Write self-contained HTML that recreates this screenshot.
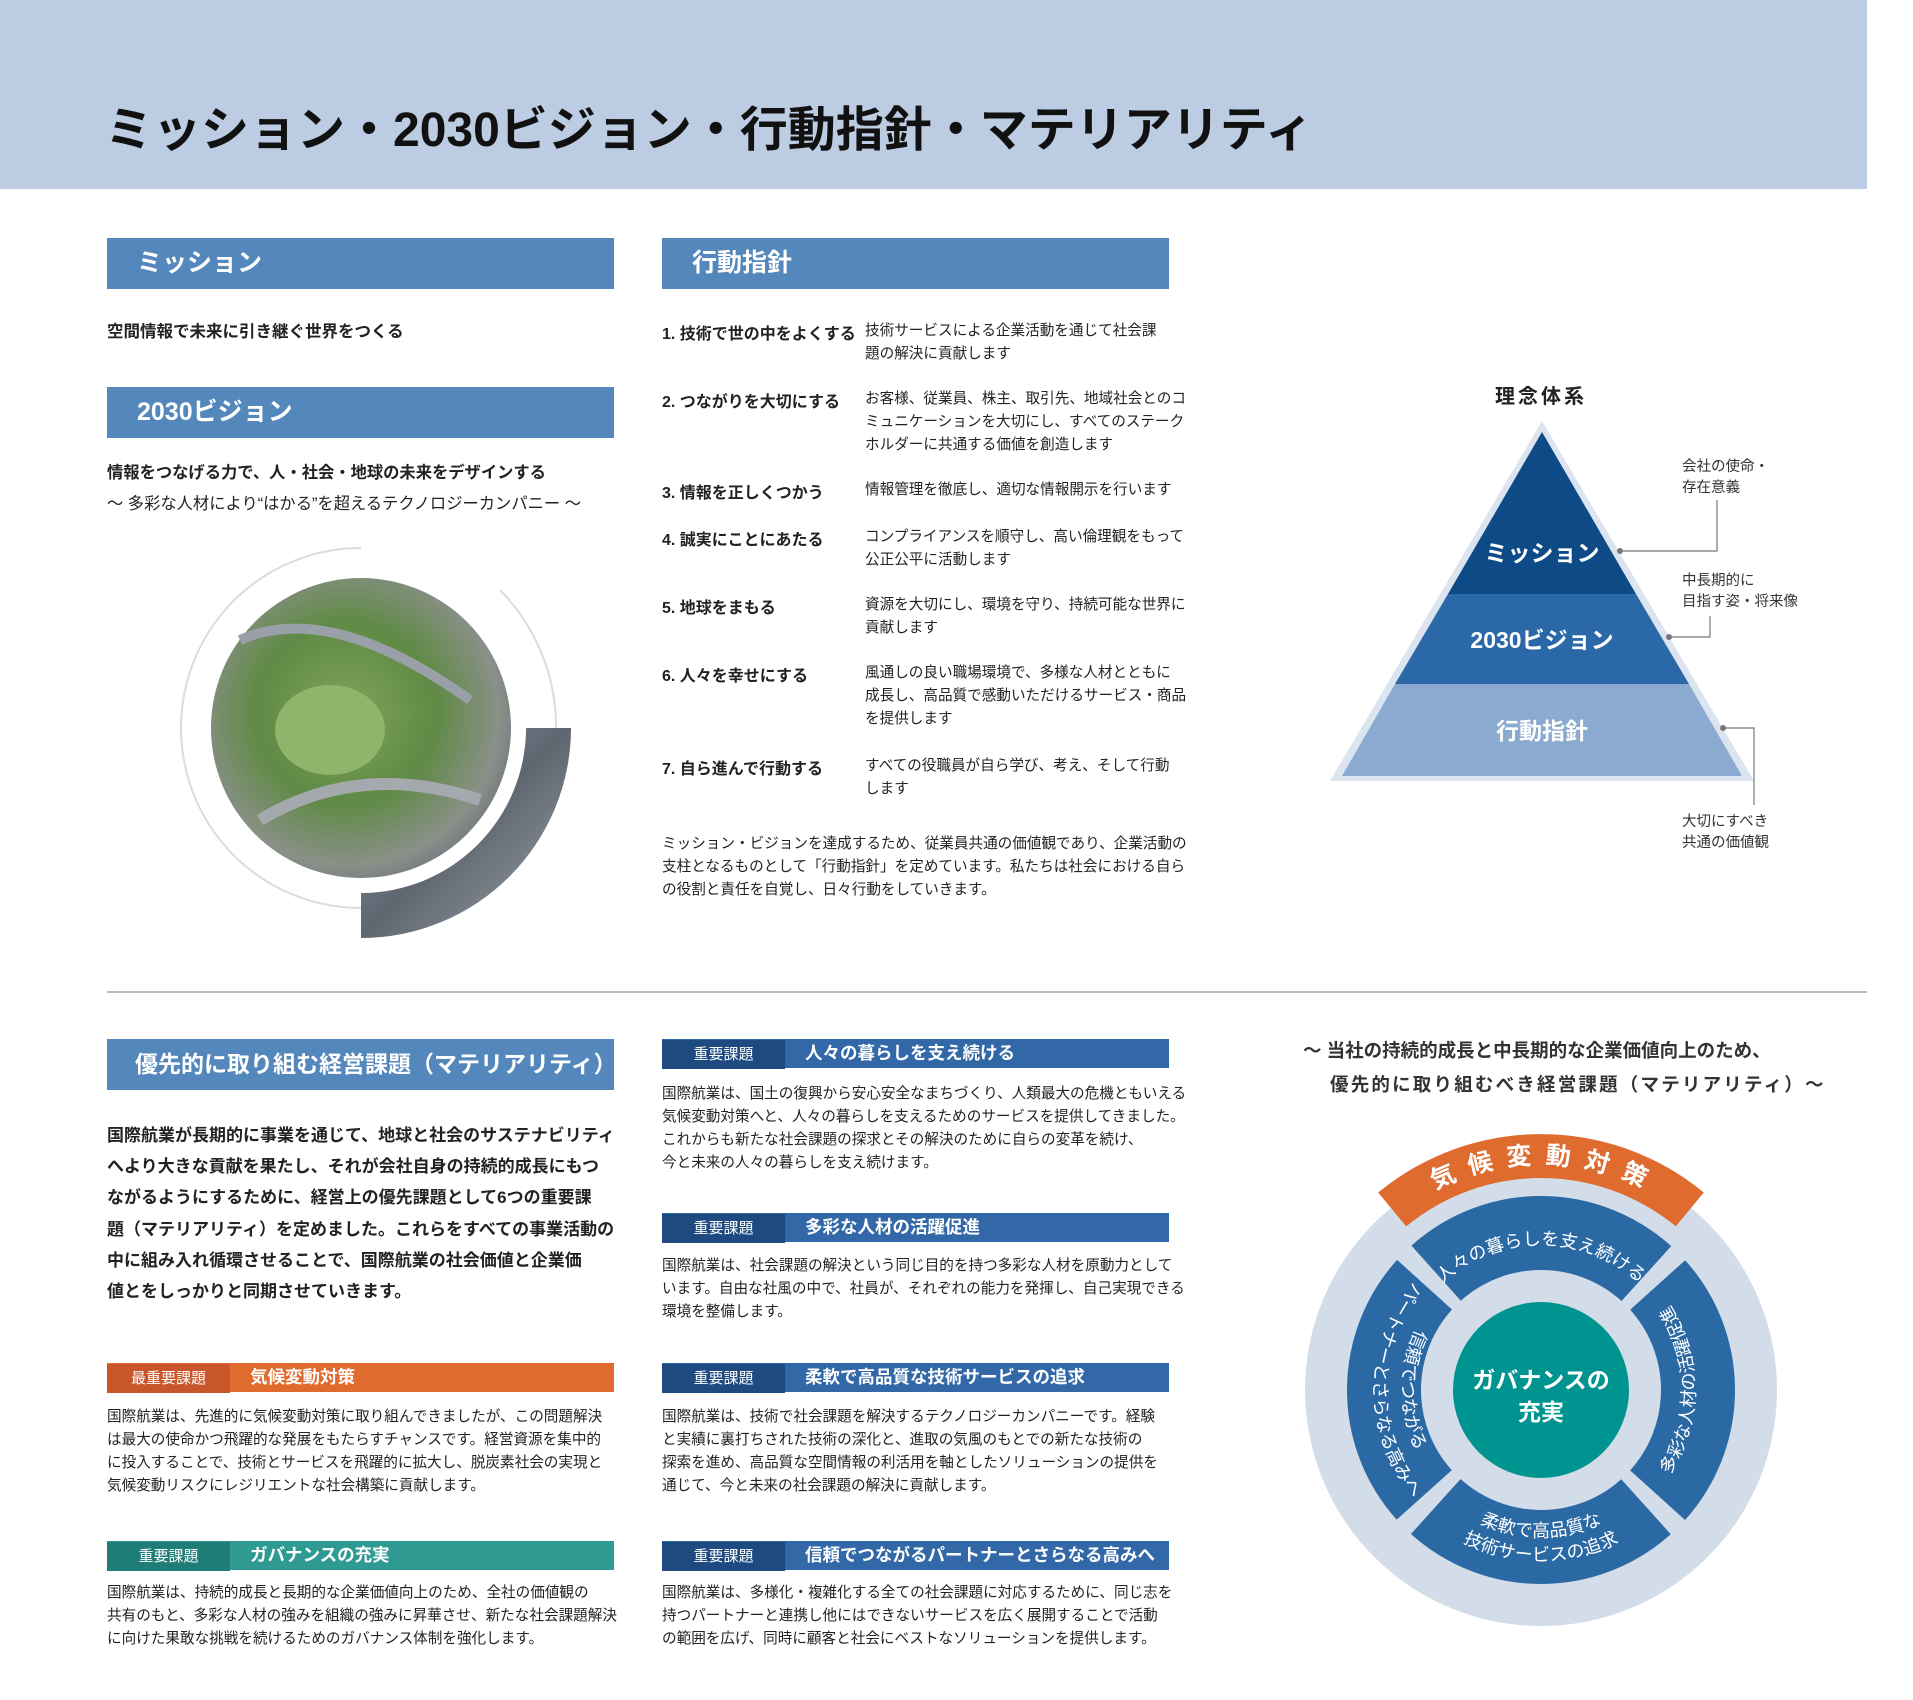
<!DOCTYPE html>
<html><head><meta charset="utf-8">
<style>
*{margin:0;padding:0;box-sizing:border-box}
body{width:1913px;height:1700px;position:relative;background:#fff;font-family:"Liberation Sans","Noto Sans CJK JP",sans-serif;color:#222;overflow:hidden}
.a{position:absolute;white-space:nowrap}
.hdr{left:0;top:0;width:1867px;height:189px;background:#bccde3}
.title{left:105px;top:96px;font-size:48px;font-weight:700;line-height:70px;color:#111}
.bar{height:51px;background:#5487bb;color:#fff;font-size:25px;font-weight:700;line-height:51px;padding-left:30px}
.t15{font-size:14.6px;line-height:23px}
.t14{font-size:14.6px;line-height:23px}
.b16{font-size:16.5px;font-weight:700}
.sb{height:29px;width:507px;line-height:29px;color:#fff}
.sb span{display:inline-block;width:123px;text-align:center;font-size:15px;height:29px}
.sb b{font-size:17.5px;padding-left:20px}
.lbl{font-size:14.5px;line-height:21px;color:#333}
</style></head><body>
<div class="a hdr"></div>
<div class="a title">ミッション・2030ビジョン・行動指針・マテリアリティ</div>

<div class="a bar" style="left:107px;top:238px;width:507px">ミッション</div>
<div class="a bar" style="left:662px;top:238px;width:507px">行動指針</div>
<div class="a b16" style="left:107px;top:318px">空間情報で未来に引き継ぐ世界をつくる</div>
<div class="a bar" style="left:107px;top:387px;width:507px">2030ビジョン</div>
<div class="a b16" style="left:107px;top:459px;font-size:16.3px">情報をつなげる力で、人・社会・地球の未来をデザインする</div>
<div class="a" style="left:107px;top:490px;font-size:16.3px">～ 多彩な人材により“はかる”を超えるテクノロジーカンパニー ～</div>

<div class="a b16" style="left:662px;top:320px;font-size:16px">1. 技術で世の中をよくする</div>
<div class="a t15" style="left:865px;top:320px">技術サービスによる企業活動を通じて社会課<br>題の解決に貢献します</div>
<div class="a b16" style="left:662px;top:388px;font-size:16px">2. つながりを大切にする</div>
<div class="a t15" style="left:865px;top:388px">お客様、従業員、株主、取引先、地域社会とのコ<br>ミュニケーションを大切にし、すべてのステーク<br>ホルダーに共通する価値を創造します</div>
<div class="a b16" style="left:662px;top:479px;font-size:16px">3. 情報を正しくつかう</div>
<div class="a t15" style="left:865px;top:479px">情報管理を徹底し、適切な情報開示を行います</div>
<div class="a b16" style="left:662px;top:526px;font-size:16px">4. 誠実にことにあたる</div>
<div class="a t15" style="left:865px;top:526px">コンプライアンスを順守し、高い倫理観をもって<br>公正公平に活動します</div>
<div class="a b16" style="left:662px;top:594px;font-size:16px">5. 地球をまもる</div>
<div class="a t15" style="left:865px;top:594px">資源を大切にし、環境を守り、持続可能な世界に<br>貢献します</div>
<div class="a b16" style="left:662px;top:662px;font-size:16px">6. 人々を幸せにする</div>
<div class="a t15" style="left:865px;top:662px">風通しの良い職場環境で、多様な人材とともに<br>成長し、高品質で感動いただけるサービス・商品<br>を提供します</div>
<div class="a b16" style="left:662px;top:755px;font-size:16px">7. 自ら進んで行動する</div>
<div class="a t15" style="left:865px;top:755px">すべての役職員が自ら学び、考え、そして行動<br>します</div>
<div class="a t14" style="left:662px;top:833px">ミッション・ビジョンを達成するため、従業員共通の価値観であり、企業活動の<br>支柱となるものとして「行動指針」を定めています。私たちは社会における自ら<br>の役割と責任を自覚し、日々行動をしていきます。</div>

<div class="a" style="left:1495px;top:380px;font-size:20px;font-weight:700;letter-spacing:3px">理念体系</div>
<div class="a lbl" style="left:1682px;top:457px">会社の使命・<br>存在意義</div>
<div class="a lbl" style="left:1682px;top:571px">中長期的に<br>目指す姿・将来像</div>
<div class="a lbl" style="left:1682px;top:812px">大切にすべき<br>共通の価値観</div>

<div class="a" style="left:107px;top:991px;width:1760px;height:2px;background:#bbb"></div>

<div class="a bar" style="left:107px;top:1039px;width:507px;font-size:23px;padding-left:28px">優先的に取り組む経営課題（マテリアリティ）</div>
<div class="a" style="left:107px;top:1120px;font-size:17px;font-weight:700;line-height:31.2px">国際航業が長期的に事業を通じて、地球と社会のサステナビリティ<br>へより大きな貢献を果たし、それが会社自身の持続的成長にもつ<br>ながるようにするために、経営上の優先課題として6つの重要課<br>題（マテリアリティ）を定めました。これらをすべての事業活動の<br>中に組み入れ循環させることで、国際航業の社会価値と企業価<br>値とをしっかりと同期させていきます。</div>

<div class="a sb" style="left:107px;top:1363px;background:#e06b2e"><span style="background:#c9562a">最重要課題</span><b>気候変動対策</b></div>
<div class="a t14" style="left:107px;top:1406px">国際航業は、先進的に気候変動対策に取り組んできましたが、この問題解決<br>は最大の使命かつ飛躍的な発展をもたらすチャンスです。経営資源を集中的<br>に投入することで、技術とサービスを飛躍的に拡大し、脱炭素社会の実現と<br>気候変動リスクにレジリエントな社会構築に貢献します。</div>
<div class="a sb" style="left:107px;top:1541px;background:#2f9a92"><span style="background:#1f7d78">重要課題</span><b>ガバナンスの充実</b></div>
<div class="a t14" style="left:107px;top:1582px">国際航業は、持続的成長と長期的な企業価値向上のため、全社の価値観の<br>共有のもと、多彩な人材の強みを組織の強みに昇華させ、新たな社会課題解決<br>に向けた果敢な挑戦を続けるためのガバナンス体制を強化します。</div>

<div class="a sb" style="left:662px;top:1039px;background:#3268a7"><span style="background:#1d4a80">重要課題</span><b>人々の暮らしを支え続ける</b></div>
<div class="a t14" style="left:662px;top:1083px">国際航業は、国土の復興から安心安全なまちづくり、人類最大の危機ともいえる<br>気候変動対策へと、人々の暮らしを支えるためのサービスを提供してきました。<br>これからも新たな社会課題の探求とその解決のために自らの変革を続け、<br>今と未来の人々の暮らしを支え続けます。</div>
<div class="a sb" style="left:662px;top:1213px;background:#3268a7"><span style="background:#1d4a80">重要課題</span><b>多彩な人材の活躍促進</b></div>
<div class="a t14" style="left:662px;top:1255px">国際航業は、社会課題の解決という同じ目的を持つ多彩な人材を原動力として<br>います。自由な社風の中で、社員が、それぞれの能力を発揮し、自己実現できる<br>環境を整備します。</div>
<div class="a sb" style="left:662px;top:1363px;background:#3268a7"><span style="background:#1d4a80">重要課題</span><b>柔軟で高品質な技術サービスの追求</b></div>
<div class="a t14" style="left:662px;top:1406px">国際航業は、技術で社会課題を解決するテクノロジーカンパニーです。経験<br>と実績に裏打ちされた技術の深化と、進取の気風のもとでの新たな技術の<br>探索を進め、高品質な空間情報の利活用を軸としたソリューションの提供を<br>通じて、今と未来の社会課題の解決に貢献します。</div>
<div class="a sb" style="left:662px;top:1541px;background:#3268a7"><span style="background:#1d4a80">重要課題</span><b>信頼でつながるパートナーとさらなる高みへ</b></div>
<div class="a t14" style="left:662px;top:1582px">国際航業は、多様化・複雑化する全ての社会課題に対応するために、同じ志を<br>持つパートナーと連携し他にはできないサービスを広く展開することで活動<br>の範囲を広げ、同時に顧客と社会にベストなソリューションを提供します。</div>

<div class="a" style="left:1303px;top:1034px;font-size:18.5px;font-weight:700;line-height:34px;color:#333">～ 当社の持続的成長と中長期的な企業価値向上のため、<br><span style="padding-left:27px;letter-spacing:2.2px">優先的に取り組むべき経営課題（マテリアリティ）～</span></div>

<svg class="a" style="left:0;top:0" width="1913" height="1700" viewBox="0 0 1913 1700">
<defs>
<radialGradient id="ph" cx="0.45" cy="0.45" r="0.6">
<stop offset="0" stop-color="#7fa45a"/><stop offset="0.5" stop-color="#5f8a45"/><stop offset="0.85" stop-color="#8a9088"/><stop offset="1" stop-color="#6f7680"/></radialGradient>
<linearGradient id="ph2" x1="0" y1="0" x2="1" y2="1"><stop offset="0" stop-color="#8a96a6"/><stop offset="0.5" stop-color="#5e6670"/><stop offset="1" stop-color="#a0a4a8"/></linearGradient>
<path id="po" d="M1367.9,1244.7 A226,226 0 0 1 1714.1,1244.7"/>
<path id="pt" d="M1415.4,1317.5 A145,145 0 0 1 1666.6,1317.5"/>
<path id="pr" d="M1618,1523.4 A154,154 0 0 0 1618,1256.6"/>
<path id="pl1" d="M1471.5,1269.6 A139,139 0 0 0 1471.5,1510.4"/>
<path id="pl2" d="M1457.5,1245.4 A167,167 0 0 0 1457.5,1534.6"/>
<path id="pb1" d="M1413.7,1463.5 A147,147 0 0 0 1668.3,1463.5"/>
<path id="pb2" d="M1392.9,1475.5 A171,171 0 0 0 1689.1,1475.5"/>
</defs>
<path d="M361,548 A180,180 0 1 0 541,728" fill="none" stroke="#dcdcdc" stroke-width="2"/>
<path d="M500,590 A195,195 0 0 1 556,728" fill="none" stroke="#dcdcdc" stroke-width="2"/>
<path d="M571,728 A210,210 0 0 1 361,938 L361,893 A165,165 0 0 0 526,728 Z" fill="url(#ph2)"/>
<circle cx="361" cy="728" r="155" fill="#fff"/>
<circle cx="361" cy="728" r="150" fill="url(#ph)"/>
<path d="M240,640 Q330,600 470,700" stroke="#9aa0a8" stroke-width="10" fill="none"/>
<path d="M260,820 Q360,760 480,800" stroke="#a4a9ae" stroke-width="12" fill="none"/>
<ellipse cx="330" cy="730" rx="55" ry="45" fill="#8fb46a"/>
<polygon points="1542,421 1754,781 1330,781" fill="#dce4f0"/>
<polygon points="1542,432 1636,594 1448,594" fill="#0d4a86"/>
<polygon points="1448,594 1636,594 1689,684 1395,684" fill="#2a68a8"/>
<polygon points="1395,684 1689,684 1742,776 1342,776" fill="#8aaacf"/>
<g fill="#fff" font-size="23" font-weight="700" text-anchor="middle" font-family="Liberation Sans,Noto Sans CJK JP,sans-serif">
<text x="1542" y="561">ミッション</text><text x="1542" y="648">2030ビジョン</text><text x="1542" y="739">行動指針</text></g>
<g fill="none" stroke="#777" stroke-width="1.2">
<polyline points="1620,551 1717,551 1717,500"/><polyline points="1669,637 1710,637 1710,616"/><polyline points="1723,728 1754,728 1754,805"/></g>
<g fill="#777"><circle cx="1620" cy="551" r="3"/><circle cx="1669" cy="637" r="3"/><circle cx="1723" cy="728" r="3"/></g>
<circle cx="1541" cy="1390" r="236" fill="#d3dde9"/>
<circle cx="1541" cy="1390" r="157" fill="none" stroke="#2b69a4" stroke-width="74" stroke-dasharray="230.2 16.4" transform="rotate(-42 1541 1390)"/>
<circle cx="1541" cy="1390" r="88" fill="#009490"/>
<path d="M1378.2,1192.5 A256,256 0 0 1 1703.8,1192.5 L1675.8,1226.4 A212,212 0 0 0 1406.2,1226.4 Z" fill="#e06b2e"/>
<g fill="#fff" font-family="Liberation Sans,Noto Sans CJK JP,sans-serif">
<text font-size="25" font-weight="700" letter-spacing="13" text-anchor="middle"><textPath href="#po" startOffset="51%">気候変動対策</textPath></text>
<text font-size="18" text-anchor="middle"><textPath href="#pt" startOffset="50%">人々の暮らしを支え続ける</textPath></text>
<text font-size="18" text-anchor="middle"><textPath href="#pr" startOffset="50%">多彩な人材の活躍促進</textPath></text>
<text font-size="18" text-anchor="middle"><textPath href="#pl1" startOffset="50%">信頼でつながる</textPath></text>
<text font-size="18" text-anchor="middle"><textPath href="#pl2" startOffset="50%">パートナーとさらなる高みへ</textPath></text>
<text font-size="18" text-anchor="middle"><textPath href="#pb1" startOffset="50%">柔軟で高品質な</textPath></text>
<text font-size="18" text-anchor="middle"><textPath href="#pb2" startOffset="50%">技術サービスの追求</textPath></text>
<text x="1541" y="1388" font-size="23" font-weight="700" text-anchor="middle">ガバナンスの</text>
<text x="1541" y="1420" font-size="23" font-weight="700" text-anchor="middle">充実</text>
</g>
</svg>
</body></html>
